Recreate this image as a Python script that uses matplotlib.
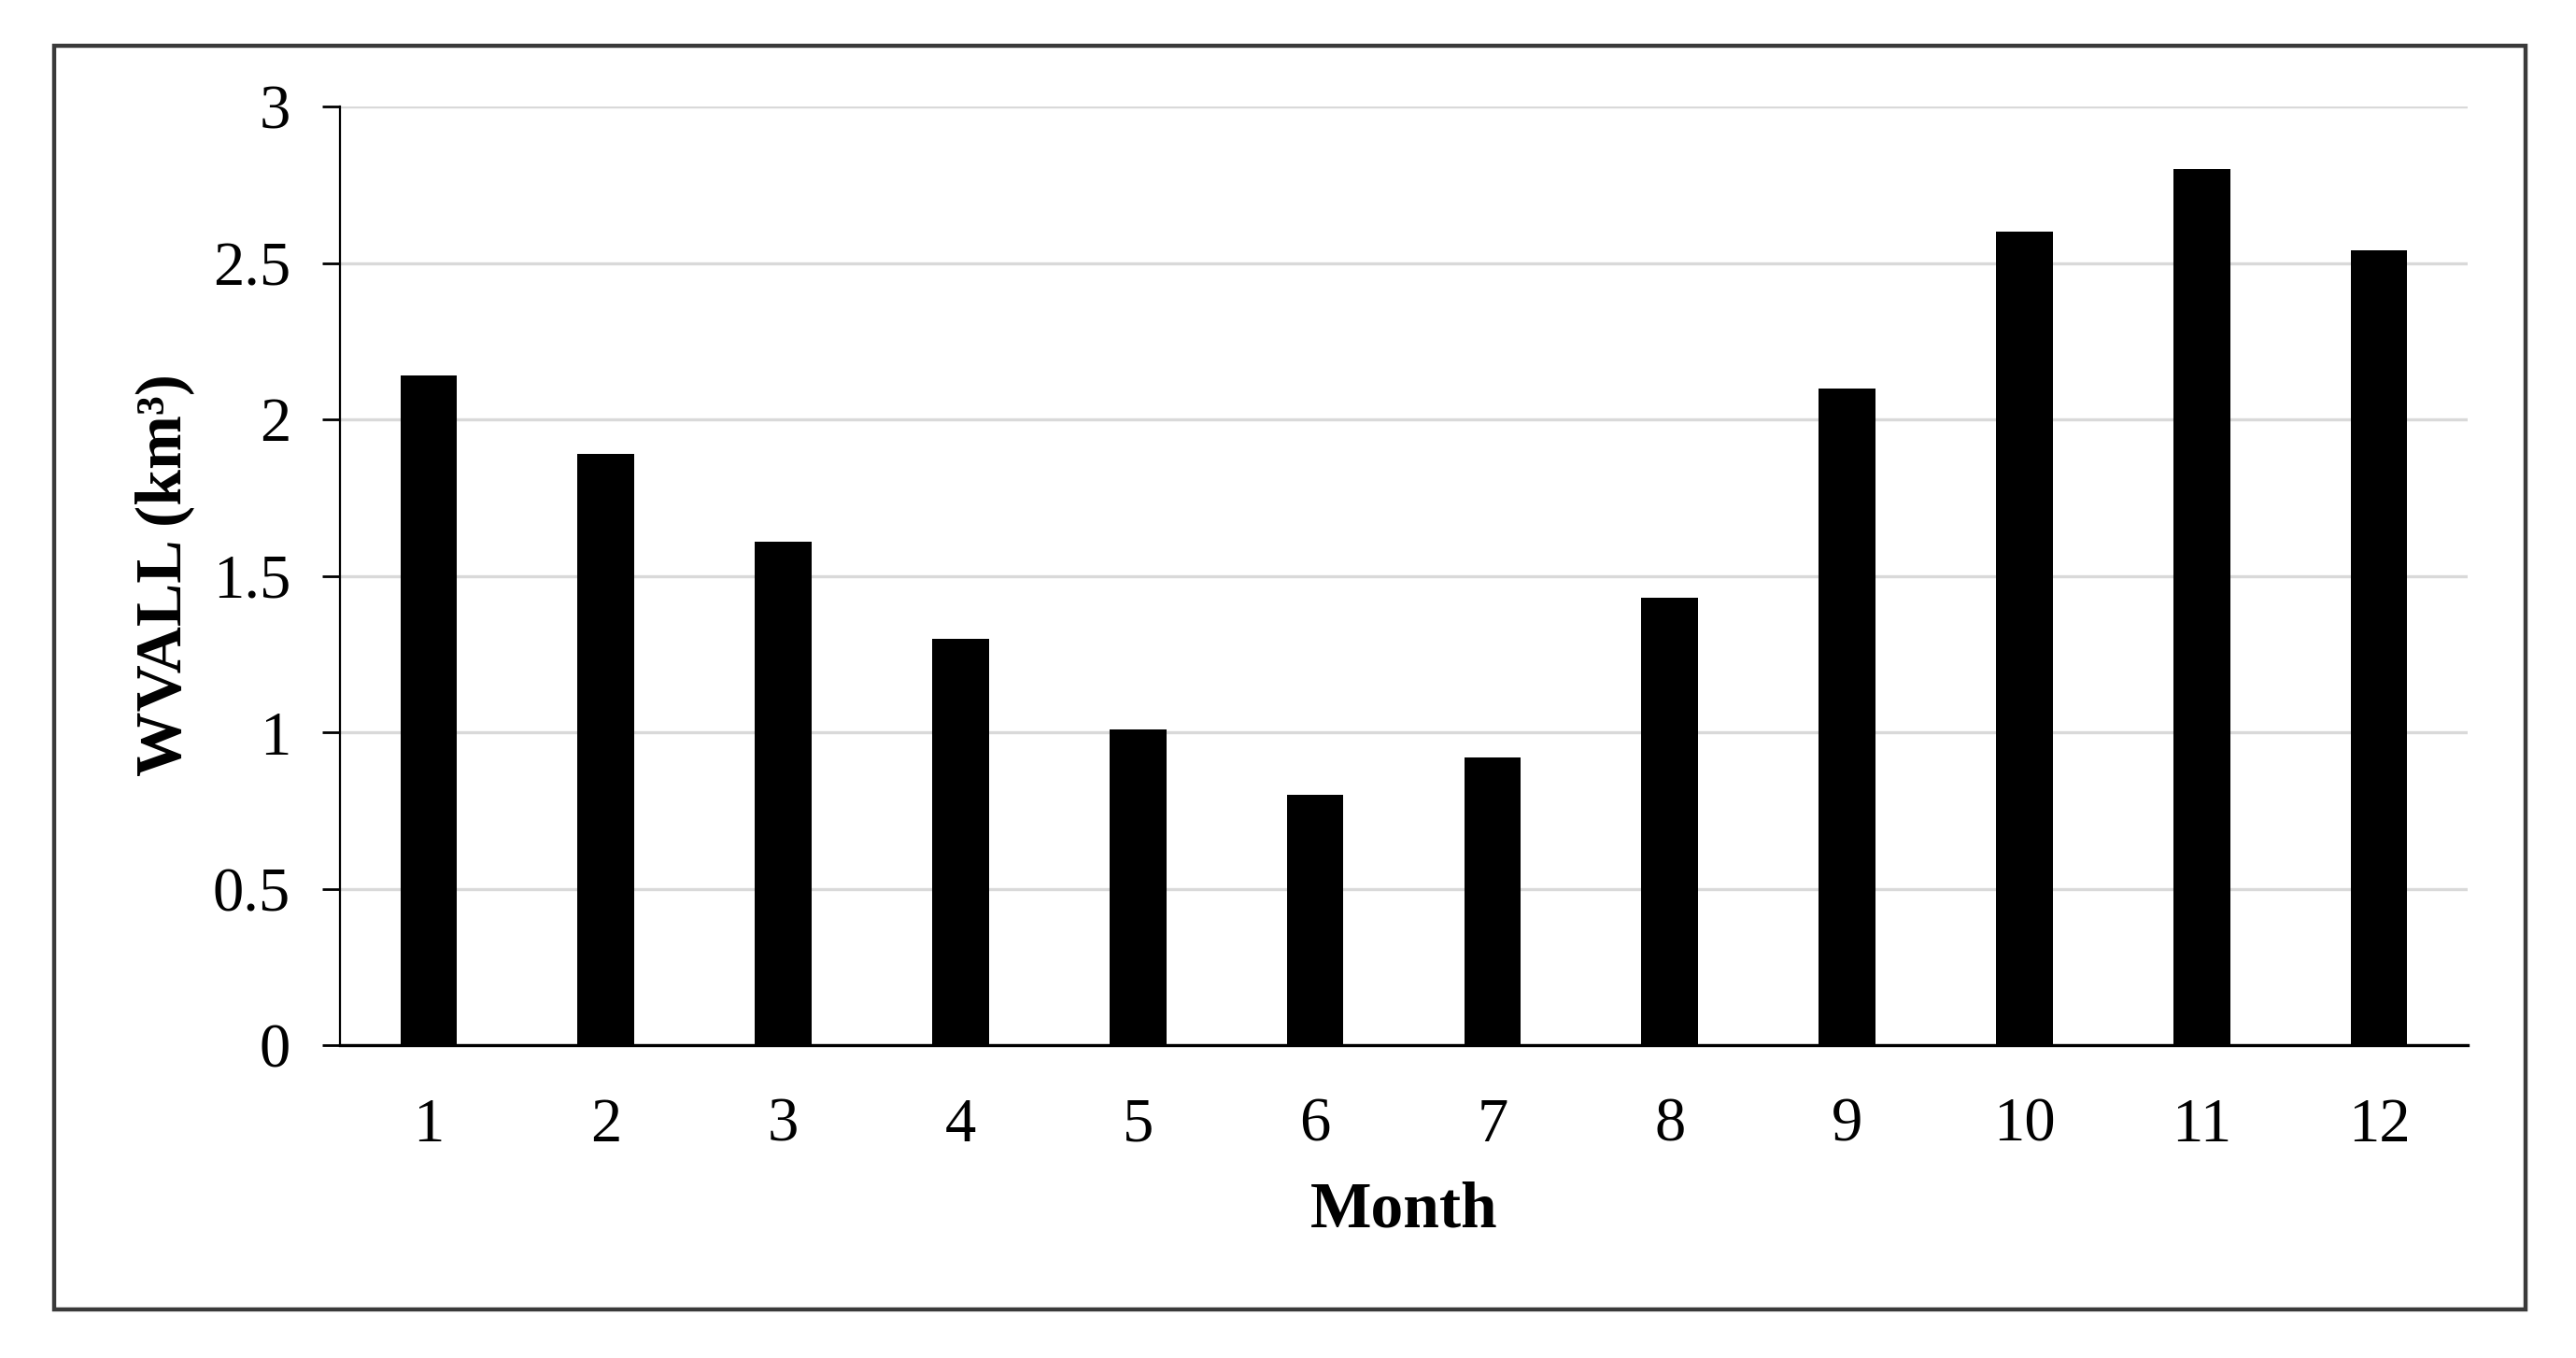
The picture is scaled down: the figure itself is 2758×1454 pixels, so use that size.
import matplotlib
matplotlib.use("Agg")
import matplotlib.pyplot as plt
from matplotlib.patches import Rectangle

months = ["1", "2", "3", "4", "5", "6", "7", "8", "9", "10", "11", "12"]
wvall = [2.14, 1.89, 1.61, 1.30, 1.01, 0.80, 0.92, 1.43, 2.10, 2.60, 2.80, 2.54]
yticks = [0, 0.5, 1, 1.5, 2, 2.5, 3]
ytick_labels = ["0", "0.5", "1", "1.5", "2", "2.5", "3"]

plt.rcParams['font.family'] = ['Liberation Serif', 'DejaVu Serif']

W, H = 2758, 1454
dpi = 200
fig = plt.figure(figsize=(W / dpi, H / dpi), dpi=dpi)
fig.patch.set_facecolor('white')

# outer frame
fig.patches.append(Rectangle((58 / W, 1 - 1402 / H), (2704 - 58) / W, (1402 - 49) / H,
                             transform=fig.transFigure, fill=False,
                             edgecolor='#3a3a3a', linewidth=1.6, zorder=0))

left, right, top, bottom = 364, 2642, 114, 1119
ax = fig.add_axes([left / W, 1 - bottom / H, (right - left) / W, (bottom - top) / H])

x = list(range(len(months)))
ax.bar(x, wvall, width=0.32, color='black', zorder=3)

ax.set_xlim(-0.5, len(months) - 0.5)
ax.set_ylim(0, 3)
ax.set_yticks(yticks)
ax.set_yticklabels(ytick_labels)
ax.set_xticks(x)
ax.set_xticklabels(months)

ax.yaxis.grid(True, color='#d9d9d9', linewidth=1.2, zorder=0)
ax.set_axisbelow(True)

for s in ['top', 'right']:
    ax.spines[s].set_visible(False)
ax.spines['left'].set_linewidth(0.8)
ax.spines['left'].set_color('black')
ax.spines['bottom'].set_linewidth(1.2)
ax.spines['bottom'].set_color('black')

ax.tick_params(axis='y', length=7, width=1.0, pad=12, labelsize=24, direction='out')
ax.tick_params(axis='x', length=0, pad=20, labelsize=24)

fig.text((left + right) / 2 / W, 1 - 1296 / H, "Month", ha='center', va='center',
         fontsize=25, fontweight='bold')
fig.text(176 / W, 1 - 616 / H, "WVALL (km³)", ha='center', va='center', rotation=90,
         fontsize=25, fontweight='bold')

fig.savefig("out.png", dpi=dpi, facecolor='white')
